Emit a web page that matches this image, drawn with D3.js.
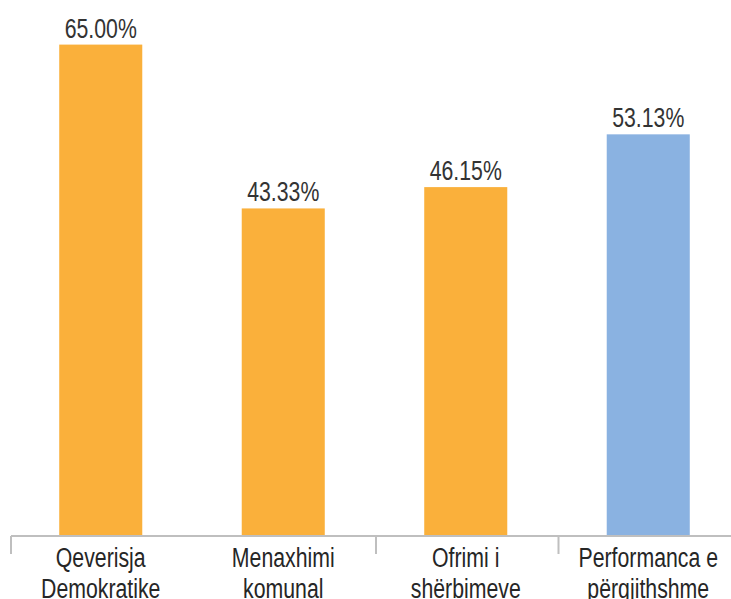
<!DOCTYPE html>
<html>
<head>
<meta charset="utf-8">
<script src="https://cdn.jsdelivr.net/npm/d3@7"></script>
<style>
  html, body { margin: 0; padding: 0; background: #fff; }
  svg { display: block; }
</style>
</head>
<body>
<svg id="chart" width="731" height="599"></svg>
<script>
const categories = [
  ["Qeverisja", "Demokratike"],
  ["Menaxhimi", "komunal"],
  ["Ofrimi i", "shërbimeve"],
  ["Performanca e", "përgjithshme"]
];
const values = [65.00, 43.33, 46.15, 53.13];
const valueLabels = ["65.00%", "43.33%", "46.15%", "53.13%"];
const barColors = ["#FAB03B", "#FAB03B", "#FAB03B", "#8AB2E1"];
const tickIndexes = [0, 2, 3];

const svg = d3.select("#chart");
const keys = categories.map((c, i) => i);

const x0 = 9.5;
const x = d3.scaleBand().domain(keys).range([x0, x0 + 730]).paddingInner(0.545).paddingOuter(0.2725);
const step = x.step();
const y = d3.scaleLinear().domain([0, 70]).range([536, 6.8]);

const FONT = "'Liberation Sans', Arial, Helvetica, sans-serif";
const SX = 0.76;

// bars
svg.append("g").selectAll("rect").data(values).join("rect")
  .attr("x", (d, i) => x(i))
  .attr("width", x.bandwidth())
  .attr("y", d => y(d))
  .attr("height", d => y(0) - y(d))
  .attr("fill", (d, i) => barColors[i]);

// axis line
svg.append("line")
  .attr("x1", x0 + 1.5).attr("x2", 731)
  .attr("y1", y(0)).attr("y2", y(0))
  .attr("stroke", "#BFBFBF").attr("stroke-width", 2);

// ticks (category boundaries)
svg.append("g").selectAll("line").data(tickIndexes).join("line")
  .attr("x1", i => x0 + 1.5 + i * step).attr("x2", i => x0 + 1.5 + i * step)
  .attr("y1", y(0)).attr("y2", y(0) + 18)
  .attr("stroke", "#BFBFBF").attr("stroke-width", 2);

// value labels
svg.append("g").selectAll("text").data(values).join("text")
  .attr("transform", (d, i) => `translate(${x(i) + x.bandwidth() / 2},${y(d) - 7}) scale(${SX},1)`)
  .attr("text-anchor", "middle")
  .attr("font-family", FONT)
  .attr("font-size", 28)
  .attr("fill", "#333333")
  .text((d, i) => valueLabels[i]);

// category labels
const cg = svg.append("g").selectAll("g").data(categories).join("g");
cg.each(function(lines, i) {
  const g = d3.select(this);
  lines.forEach((t, j) => {
    g.append("text")
      .attr("transform", `translate(${x(i) + x.bandwidth() / 2},${567 + j * 31}) scale(${SX},1)`)
      .attr("text-anchor", "middle")
      .attr("font-family", FONT)
      .attr("font-size", 28)
      .attr("fill", "#262626")
      .text(t);
  });
});
</script>
</body>
</html>
